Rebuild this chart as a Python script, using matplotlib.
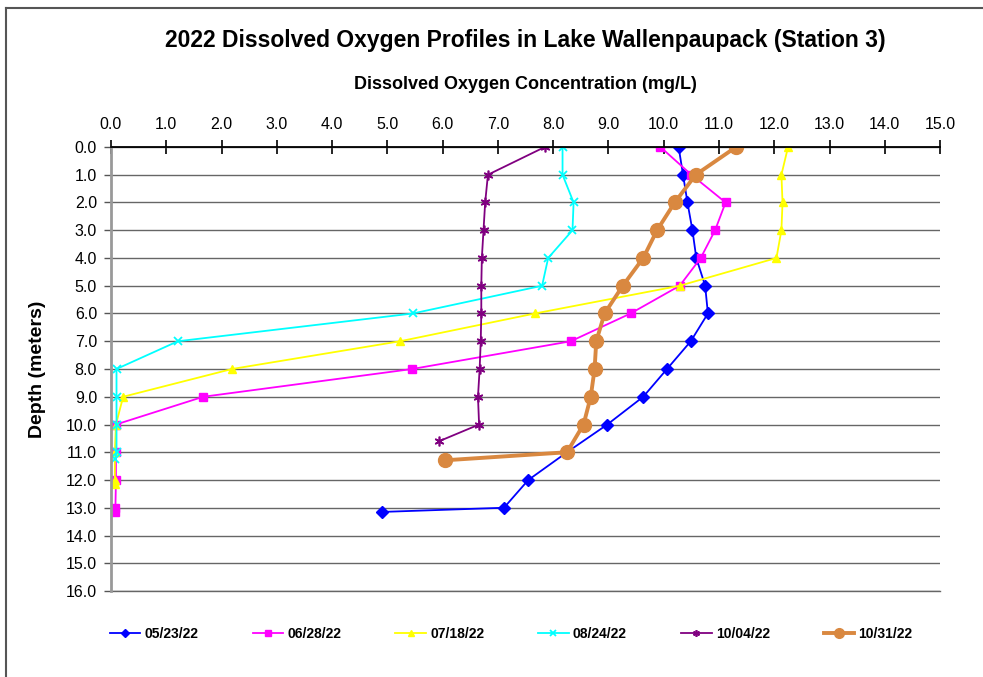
import matplotlib.pyplot as plt
from matplotlib.lines import Line2D

plt.rcParams['font.family'] = ['Liberation Sans', 'DejaVu Sans']

# dissolved oxygen (mg/L) by depth (m), one list pair per sampling date
d_0523 = [0, 1, 2, 3, 4, 5, 6, 7, 8, 9, 10, 11, 12, 13, 13.15]
do_0523 = [10.27, 10.35, 10.43, 10.52, 10.59, 10.75, 10.80, 10.49, 10.06, 9.63, 8.98, 8.25, 7.55, 7.11, 4.90]

d_0628 = [0, 1, 2, 3, 4, 5, 6, 7, 8, 9, 10, 11, 12, 13, 13.15]
do_0628 = [9.94, 10.50, 11.12, 10.93, 10.67, 10.29, 9.40, 8.32, 5.45, 1.67, 0.09, 0.09, 0.09, 0.08, 0.08]

d_0718 = [0, 1, 2, 3, 4, 5, 6, 7, 8, 9, 10, 11, 12, 12.15]
do_0718 = [12.25, 12.13, 12.15, 12.13, 12.04, 10.29, 7.67, 5.23, 2.19, 0.22, 0.09, 0.07, 0.07, 0.07]

d_0824 = [0, 1, 2, 3, 4, 5, 6, 7, 8, 9, 10, 11, 11.23]
do_0824 = [8.17, 8.17, 8.37, 8.35, 7.91, 7.80, 5.46, 1.21, 0.10, 0.10, 0.10, 0.10, 0.08]

d_1004 = [0, 1, 2, 3, 4, 5, 6, 7, 8, 9, 10, 10.6]
do_1004 = [7.85, 6.82, 6.77, 6.74, 6.71, 6.70, 6.70, 6.69, 6.67, 6.64, 6.66, 5.94]

d_1031 = [0, 1, 2, 3, 4, 5, 6, 7, 8, 9, 10, 11, 11.29]
do_1031 = [11.31, 10.58, 10.20, 9.88, 9.63, 9.26, 8.93, 8.78, 8.75, 8.68, 8.55, 8.25, 6.04]

x_ticks = [i for i in range(16)]
y_ticks = [i for i in range(17)]

fig = plt.figure(figsize=(9.83, 6.77), dpi=100)
ax = fig.add_axes([0.1129, 0.127, 0.8434, 0.6559])

ax.plot(do_0523, d_0523, color='#0000FF', lw=1.3, marker='D', ms=6, label='05/23/22')
ax.plot(do_0628, d_0628, color='#FF00FF', lw=1.3, marker='s', ms=6, label='06/28/22')
ax.plot(do_0718, d_0718, color='#FFFF00', lw=1.3, marker='^', ms=6, label='07/18/22')
ax.plot(do_0824, d_0824, color='#00FFFF', lw=1.3, marker='x', ms=6, mew=1.3, label='08/24/22')
ax.plot(do_1004, d_1004, color='#800080', lw=1.3, marker=(6, 2, 0), ms=7, mew=1.2, label='10/04/22')
ax.plot(do_1031, d_1031, color='#D98840', lw=2.8, marker='o', ms=10, label='10/31/22')

ax.set_xlim(0, 15)
ax.set_ylim(16, 0)
ax.set_xticks(x_ticks)
ax.set_xticklabels([f"{v:.1f}" for v in x_ticks])
ax.set_yticks(y_ticks)
ax.set_yticklabels([f"{v:.1f}" for v in y_ticks])
ax.xaxis.tick_top()
ax.xaxis.set_label_position('top')
ax.tick_params(axis='x', direction='inout', length=10, width=1.2, labelsize=11.5, pad=6, color='black')
ax.tick_params(axis='y', direction='out', length=5, width=1, labelsize=11.5, pad=5, color='#555555')

ax.grid(axis='y', color='#666666', lw=1)
ax.axhline(y_ticks[-1], color='#666666', lw=1, clip_on=False, zorder=0.5)
ax.set_axisbelow(True)
for s in ['right', 'bottom']:
    ax.spines[s].set_visible(False)
ax.spines['top'].set_color('black')
ax.spines['top'].set_linewidth(1.3)
ax.spines['left'].set_color('#999999')
ax.spines['left'].set_linewidth(2)

ax.set_xlabel("Dissolved Oxygen Concentration (mg/L)", fontsize=13, fontweight='bold', labelpad=20)
ax.set_ylabel("Depth (meters)", fontsize=14, fontweight='bold', labelpad=14)
fig.text(0.534, 0.94, "2022 Dissolved Oxygen Profiles in Lake Wallenpaupack (Station 3)",
         ha='center', va='center', fontsize=16.5, fontweight='bold')

fig.legend(loc='center', bbox_to_anchor=(0.52, 0.063), ncol=6, frameon=False,
           prop={'size': 10, 'weight': 'bold'}, handlelength=2.2, columnspacing=3.9,
           handletextpad=0.3, markerscale=0.7)

# outer frame (left and top only)
fig.add_artist(Line2D([0.006, 0.006], [0, 0.988], transform=fig.transFigure, color='#555555', lw=1.5))
fig.add_artist(Line2D([0.006, 1], [0.988, 0.988], transform=fig.transFigure, color='#555555', lw=1.5))

fig.savefig('out.png', dpi=100)
